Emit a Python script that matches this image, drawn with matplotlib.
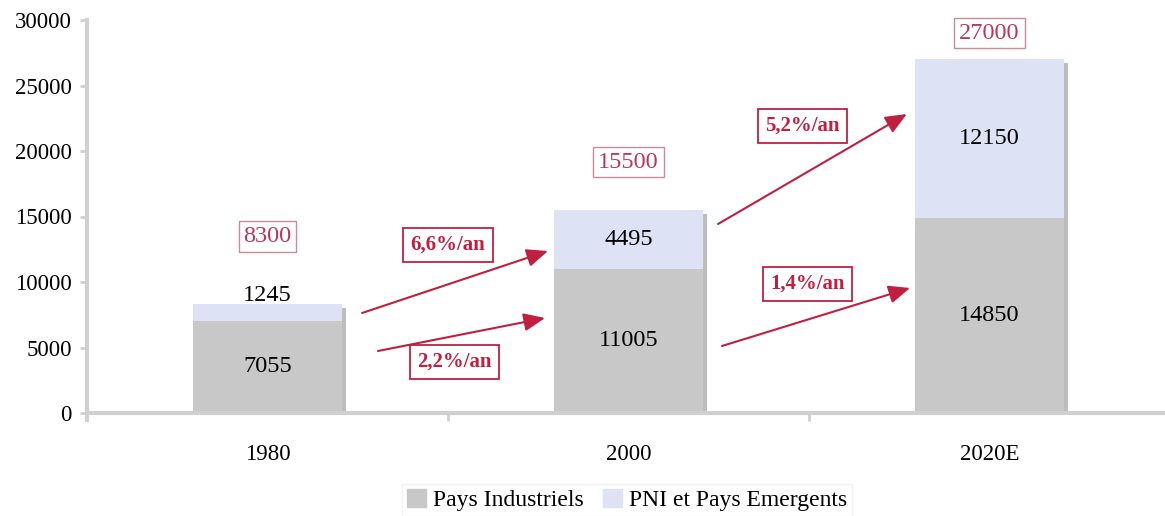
import numpy as np
import matplotlib.pyplot as plt
from matplotlib.patches import Patch

years = ['1980', '2000', '2020E']
industriels = [7055, 11005, 14850]
emergents = [1245, 4495, 12150]
totaux = [8300, 15500, 27000]
taux = ['6,6%/an', '2,2%/an', '5,2%/an', '1,4%/an']

plt.rcParams['font.family'] = ['Liberation Serif', 'DejaVu Serif']

gris = '#c8c8c8'
bleu = '#dde3f5'
rouge = '#c0203f'
axe = '#d0d0d0'

fig = plt.figure(figsize=(11.65, 5.16), dpi=100)
ax = fig.add_axes([87 / 1165, 1 - 413 / 516, 1083 / 1165, 393 / 516])

x = np.arange(len(years))
w = 0.41
# ombre a droite des barres
ax.bar(x + 0.012, np.add(industriels, emergents), w, bottom=-300, color='#bdbdbd', zorder=1)
ax.bar(x, industriels, w, color=gris, zorder=2)
ax.bar(x, emergents, w, bottom=industriels, color=bleu, zorder=2)

ax.set_xlim(-0.5, 2.5)
ax.set_ylim(0, 30000)
ax.set_yticks(np.arange(0, 30001, 5000))
ax.set_xticks(x)
ax.set_xticklabels(years)
ax.set_xticks([-0.5, 0.5, 1.5, 2.5], minor=True)
ax.tick_params(axis='x', which='major', length=0, pad=22, labelsize=16.5)
ax.tick_params(axis='x', which='minor', length=6, width=2, color=axe)
ax.tick_params(axis='y', length=5, width=2, color=axe, labelsize=16.5, pad=6)

for s in ['top', 'right']:
    ax.spines[s].set_visible(False)
for s in ['left', 'bottom']:
    ax.spines[s].set_color(axe)
    ax.spines[s].set_linewidth(3)
ax.spines['left'].set_bounds(-500, 30000)

# valeurs dans les barres
for i in range(3):
    ax.text(x[i], industriels[i] / 2, str(industriels[i]), ha='center', va='center', fontsize=17.5, zorder=3)
    if i == 0:
        ax.text(x[i], 9000, str(emergents[i]), ha='center', va='center', fontsize=17.5, zorder=3)
    else:
        ax.text(x[i], industriels[i] + emergents[i] / 2, str(emergents[i]), ha='center', va='center',
                fontsize=17.5, zorder=3)

# totaux encadres
pos_tot = [13500, 19150, 29000]
for i in range(3):
    ax.text(x[i], pos_tot[i], str(totaux[i]), ha='center', va='center', fontsize=17.5, color='#b5395a',
            bbox=dict(boxstyle='square,pad=0.2', fc='white', ec='#c98a9a', lw=1))

# fleches de croissance
fleches = [((0.262, 7634), (0.777, 12366)),
           ((0.306, 4733), (0.769, 7252)),
           ((1.248, 14427), (1.771, 22824)),
           ((1.259, 5115), (1.780, 9542))]
for (x0, y0), (x1, y1) in fleches:
    ax.annotate('', xy=(x1, y1), xytext=(x0, y0),
                arrowprops=dict(arrowstyle='-|>,head_length=1.3,head_width=0.55', color=rouge, lw=1.5,
                                shrinkA=0, shrinkB=0))

pos_taux = [(0.50, 12824), (0.519, 3893), (1.483, 21908), (1.497, 9847)]
for (tx, ty), t in zip(pos_taux, taux):
    ax.text(tx, ty, t, ha='center', va='center', fontsize=15, fontweight='bold', color=rouge,
            bbox=dict(boxstyle='square,pad=0.35', fc='white', ec=rouge, lw=1.3))

handles = [Patch(color=gris, label='Pays Industriels'), Patch(color=bleu, label='PNI et Pays Emergents')]
leg = fig.legend(handles=handles, loc='center', bbox_to_anchor=(627 / 1165, 1 - 500 / 516), ncol=2,
                 fontsize=17, frameon=True, fancybox=False, edgecolor='#eeeeee', handlelength=0.8,
                 handleheight=0.8, handletextpad=0.3, columnspacing=0.8, borderpad=0.2)
leg.get_frame().set_linewidth(1)

fig.savefig('out.png', dpi=100)
